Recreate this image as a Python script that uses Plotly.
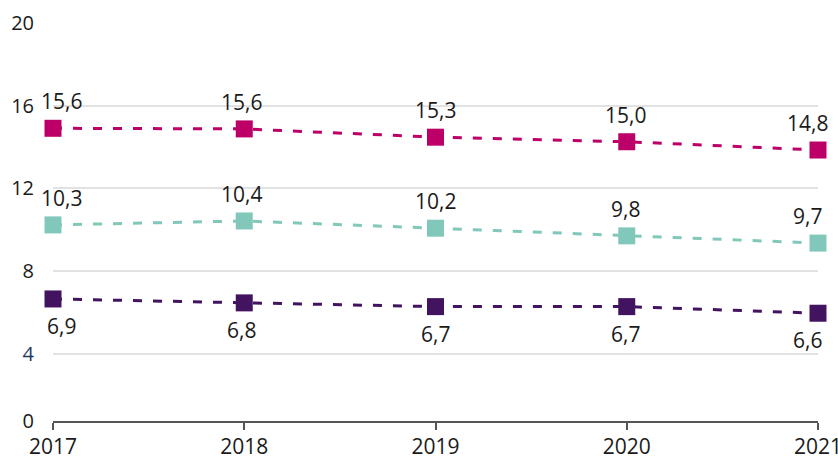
import plotly.graph_objects as go

years = [2017, 2018, 2019, 2020, 2021]

# plotted positions
pink_values = [14.91, 14.88, 14.48, 14.26, 13.86]
teal_values = [10.24, 10.43, 10.08, 9.71, 9.36]
purple_values = [6.66, 6.47, 6.29, 6.29, 5.97]

# printed data labels
pink_labels = ["15,6", "15,6", "15,3", "15,0", "14,8"]
teal_labels = ["10,3", "10,4", "10,2", "9,8", "9,7"]
purple_labels = ["6,9", "6,8", "6,7", "6,7", "6,6"]

y_tick_vals = [0.76, 4, 8, 12, 16, 20]
y_tick_text = ["0", "<span style='color:#1F3864'>4</span>", "8", "12", "16", "20"]

FONT = "Open Sans"
TXT = "#1a1a1a"

series = [
    (pink_values, pink_labels, "#BC0067", 27),
    (teal_values, teal_labels, "#82C8BA", 27),
    (purple_values, purple_labels, "#42145F", -27),
]

fig = go.Figure()
annotations = []
edge_shift = {2017: 8, 2018: -3, 2019: 0, 2020: -1, 2021: -11}
for vals, labs, col, dy in series:
    fig.add_trace(go.Scatter(
        x=years, y=vals, mode="lines+markers",
        line=dict(color=col, width=3, dash="9px,11px"),
        marker=dict(symbol="square", size=17, color=col),
        cliponaxis=False, showlegend=False, hoverinfo="skip",
    ))
    for x, v, t in zip(years, vals, labs):
        annotations.append(dict(
            x=x, y=v, xref="x", yref="y", text=t, showarrow=False,
            xshift=edge_shift[x], yshift=dy, yanchor="middle", xanchor="center",
            font=dict(family=FONT, size=21, color=TXT),
        ))

fig.update_layout(
    width=838, height=459,
    margin=dict(l=53, r=20, t=23, b=38),
    paper_bgcolor="white", plot_bgcolor="white",
    annotations=annotations,
    font=dict(family=FONT, color=TXT),
)
fig.update_xaxes(
    range=[2017, 2021], tickvals=years, ticktext=[str(y) for y in years],
    showgrid=False, zeroline=False,
    showline=True, linecolor="#555555", linewidth=1.5,
    ticks="outside", ticklen=7, tickcolor="#555555", tickwidth=1.5,
    tickfont=dict(family=FONT, size=21, color=TXT),
    ticklabeloverflow="allow", ticklabelstandoff=-1,
    automargin=False,
)
fig.update_yaxes(
    range=[0.76, 20], tickvals=y_tick_vals, ticktext=y_tick_text,
    showgrid=True, gridcolor="#E2E2E2", gridwidth=1.5,
    zeroline=False, showline=False,
    tickfont=dict(family=FONT, size=20, color=TXT),
    ticklabelstandoff=18, automargin=False,
)

fig.write_html("out.html", config={"displayModeBar": False},
               post_script="document.body.style.margin='0';")
